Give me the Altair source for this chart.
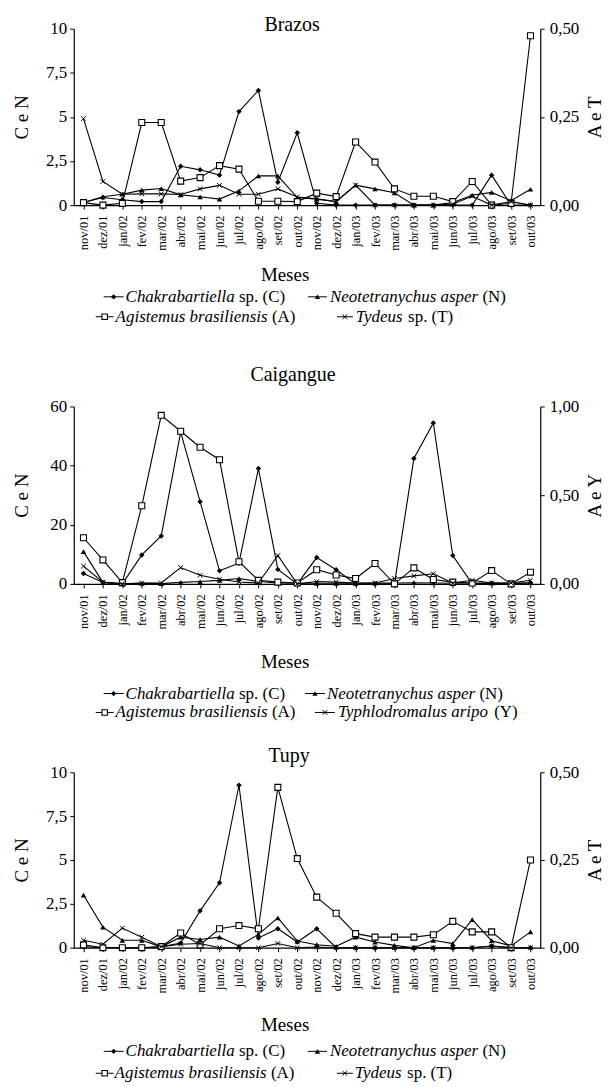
import altair as alt
import pandas as pd

months = ["nov/01", "dez/01", "jan/02", "fev/02", "mar/02", "abr/02", "mai/02", "jun/02",
          "jul/02", "ago/02", "set/02", "out/02", "nov/02", "dez/02", "jan/03", "fev/03",
          "mar/03", "abr/03", "mai/03", "jun/03", "jul/03", "ago/03", "set/03", "out/03"]

# Brazos (C, N on left axis; A, T on right axis)
brazos_C = [0.15, 0.43, 0.3, 0.2, 0.2, 2.2, 2.0, 1.7, 5.3, 6.5, 1.3, 4.1,
            0.1, 0.0, 0.0, 0.0, 0.0, 0.0, 0.0, 0.0, 0.0, 1.7, 0.0, 0.0]
brazos_N = [0.15, 0.47, 0.62, 0.85, 0.94, 0.58, 0.47, 0.34, 0.81, 1.66, 1.66, 0.43,
            0.34, 0.19, 1.13, 0.92, 0.7, 0.0, 0.0, 0.15, 0.56, 0.72, 0.25, 0.9]
brazos_A = [0.007, 0.0, 0.005, 0.234, 0.234, 0.068, 0.078, 0.112, 0.102, 0.011, 0.011, 0.01,
            0.034, 0.024, 0.179, 0.122, 0.046, 0.025, 0.025, 0.01, 0.067, 0.0, 0.005, 0.48]
brazos_T = [0.245, 0.067, 0.031, 0.032, 0.032, 0.03, 0.046, 0.056, 0.031, 0.031, 0.046, 0.023,
            0.018, 0.01, 0.057, 0.0, 0.0, 0.0, 0.0, 0.003, 0.025, 0.0, 0.01, 0.0]

# Caigangue (C, N left; A, Y right)
cai_C = [3.5, 0.5, 0.0, 9.8, 16.2, 51.3, 27.8, 4.4, 7.0, 39.0, 4.9, 0.0,
         8.9, 4.8, 0.0, 0.0, 0.0, 42.4, 54.4, 9.6, 0.0, 0.2, 0.0, 0.3]
cai_N = [10.9, 0.5, 0.0, 0.2, 0.1, 0.5, 0.8, 1.2, 1.8, 0.8, 0.3, 0.2,
         0.2, 0.2, 0.2, 0.3, 0.3, 0.4, 0.3, 0.2, 0.3, 0.3, 0.2, 0.4]
cai_A = [0.26, 0.135, 0.007, 0.44, 0.95, 0.86, 0.77, 0.70, 0.125, 0.02, 0.01, 0.005,
         0.08, 0.05, 0.03, 0.115, 0.0, 0.09, 0.025, 0.01, 0.005, 0.075, 0.0, 0.066]
cai_Y = [0.10, 0.01, 0.0, 0.005, 0.005, 0.092, 0.049, 0.026, 0.011, 0.005, 0.16, 0.0,
         0.013, 0.01, 0.005, 0.005, 0.03, 0.045, 0.057, 0.005, 0.02, 0.005, 0.005, 0.02]

# Tupy (C, N left; A, T right)
tupy_C = [0.05, 0.0, 0.0, 0.0, 0.05, 0.26, 2.1, 3.7, 9.26, 0.55, 1.08, 0.32,
          1.08, 0.0, 0.0, 0.0, 0.0, 0.0, 0.0, 0.0, 0.0, 0.1, 0.0, 0.0]
tupy_N = [3.0, 1.17, 0.42, 0.42, 0.05, 0.6, 0.47, 0.6, 0.1, 0.76, 1.7, 0.38,
          0.17, 0.08, 0.6, 0.32, 0.13, 0.0, 0.42, 0.23, 1.6, 0.4, 0.1, 0.9]
tupy_A = [0.008, 0.0, 0.0, 0.0, 0.003, 0.042, 0.008, 0.054, 0.063, 0.054, 0.457, 0.254,
          0.144, 0.098, 0.04, 0.03, 0.03, 0.03, 0.037, 0.075, 0.045, 0.045, 0.0, 0.25]
tupy_T = [0.021, 0.01, 0.056, 0.03, 0.003, 0.01, 0.012, 0.0, 0.0, 0.0, 0.012, 0.0,
          0.002, 0.0, 0.0, 0.0, 0.0, 0.0, 0.0, 0.0, 0.0, 0.005, 0.0, 0.0]

FONT = "'Liberation Serif', 'Times New Roman', Times, serif"
W = 468
LEG_SIZE = 17
XSHAPE = "M-1,-1L1,1M-1,1L1,-1"

ITALIC_W = {'C': 667, 'h': 500, 'a': 500, 'k': 444, 'r': 389, 'b': 500, 't': 278, 'i': 278,
            'e': 444, 'l': 278, 'N': 667, 'o': 500, 'y': 444, 'c': 444, 'n': 500, 'u': 500,
            's': 389, 'p': 500, 'A': 611, 'g': 500, 'm': 722, 'T': 556, 'd': 500, ' ': 250}


def italic_width(s, size):
    return sum(ITALIC_W.get(ch, 500) for ch in s) * size / 1000.0


one = pd.DataFrame({"k": [0]})


def text_layer(txt, x, y, size, align="left", italic=False):
    return alt.Chart(one).mark_text(
        text=txt, font=FONT, fontSize=size, align=align, baseline="alphabetic",
        fontStyle="italic" if italic else "normal", color="black"
    ).encode(x=alt.value(x), y=alt.value(y))


def marker_layer(shape, x, y):
    if shape == "square":
        m = alt.Chart(one).mark_point(shape="square", filled=True, fill="white", stroke="black",
                                      strokeWidth=1.1, size=30, opacity=1)
    elif shape == "x":
        m = alt.Chart(one).mark_point(shape=XSHAPE, filled=False, stroke="black",
                                      strokeWidth=1, size=22, opacity=1)
    else:
        m = alt.Chart(one).mark_point(shape=shape, filled=True, color="black", size=28, opacity=1)
    return m.encode(x=alt.value(x), y=alt.value(y))


def series_layers(df, field, shape, yenc_fn, xenc):
    line = alt.Chart(df).mark_line(color="black", strokeWidth=1.1).encode(
        x=xenc, y=yenc_fn(field), order=alt.Order("idx:Q"))
    if shape == "square":
        pts = alt.Chart(df).mark_point(shape="square", filled=True, fill="white", stroke="black",
                                       strokeWidth=1.1, size=36, opacity=1)
    elif shape == "x":
        pts = alt.Chart(df).mark_point(shape=XSHAPE, filled=False, stroke="black",
                                       strokeWidth=1, size=22, opacity=1)
    else:
        pts = alt.Chart(df).mark_point(shape=shape, filled=True, color="black", size=30, opacity=1)
    pts = pts.encode(x=xenc, y=yenc_fn(field))
    return [line, pts]


def make_panel(title, title_x, title_y, C, N, A, T, left_max, left_vals, right_max, right_vals,
               right_title, h, meses_y, row_y, pad_top, pad_bottom, legend):
    df = pd.DataFrame({"month": months, "idx": list(range(len(months))),
                       "C": C, "N": N, "A": A, "T": T})
    xenc = alt.X("month:N", sort=months, scale=alt.Scale(type="point", padding=0.5),
                 axis=alt.Axis(title=None, labelAngle=270, labelFont=FONT, labelFontSize=12.5,
                               labelColor="black", tickColor="black", domainColor="black",
                               tickSize=4, labelPadding=6, grid=False, domainWidth=1.2,
                               tickWidth=1))
    left_axis = alt.Axis(values=left_vals, orient="left", grid=False, title="C e N",
                         labelExpr="replace(toString(datum.value), '.', ',')",
                         labelFont=FONT, labelFontSize=17, labelColor="black",
                         tickColor="black", domainColor="black", tickSize=4, labelPadding=3,
                         domainWidth=1.2, titleFont=FONT, titleFontSize=19,
                         titleFontWeight="normal", titleColor="black", titleAngle=270,
                         titleX=-46, titleY=h / 2, titleAlign="center",
                         titleBaseline="alphabetic")
    right_axis = alt.Axis(values=right_vals, orient="right", grid=False, title=right_title,
                          labelExpr="replace(format(datum.value, '.2f'), '.', ',')",
                          labelFont=FONT, labelFontSize=17, labelColor="black",
                          tickColor="black", domainColor="black", tickSize=4, labelPadding=5,
                          domainWidth=1.2, titleFont=FONT, titleFontSize=19,
                          titleFontWeight="normal", titleColor="black", titleAngle=270,
                          titleX=60, titleY=h / 2, titleAlign="center",
                          titleBaseline="alphabetic")

    def yl(f):
        return alt.Y(f + ":Q", scale=alt.Scale(domain=[0, left_max], nice=False), axis=left_axis)

    def yr(f):
        return alt.Y(f + ":Q", scale=alt.Scale(domain=[0, right_max], nice=False), axis=right_axis)

    left = alt.layer(*(series_layers(df, "C", "diamond", yl, xenc) +
                       series_layers(df, "N", "triangle-up", yl, xenc)))
    right = alt.layer(*(series_layers(df, "A", "square", yr, xenc) +
                        series_layers(df, "T", "x", yr, xenc)))

    padder = alt.Chart(one).mark_rule(color="white", strokeWidth=0.2).encode(
        x=alt.value(-73), x2=alt.value(W + 68), y=alt.value(-pad_top), y2=alt.value(h + pad_bottom))

    decor = [text_layer(title, title_x, title_y, 20, align="center"),
             text_layer("Meses", 212, h + meses_y, 19, align="center")]
    space = 250 * LEG_SIZE / 1000.0
    for row, x1, x2, shape, ital, rom, tx in legend:
        ly = h + row_y[row]
        decor.append(alt.Chart(one).mark_rule(color="black", strokeWidth=1).encode(
            x=alt.value(x1), x2=alt.value(x2), y=alt.value(ly - 5)))
        decor.append(marker_layer(shape, (x1 + x2) / 2, ly - 5))
        decor.append(text_layer(ital, tx, ly, LEG_SIZE, italic=True))
        decor.append(text_layer(rom, tx + italic_width(ital, LEG_SIZE) + space, ly, LEG_SIZE))

    return alt.layer(padder, left, right, *decor).resolve_scale(y="independent").properties(
        width=W, height=h)


leg_brazos = [
    (0, 30, 50, "diamond", "Chakrabartiella", "sp. (C)", 52),
    (0, 235, 254, "triangle-up", "Neotetranychus asper", "(N)", 257),
    (1, 22, 40, "square", "Agistemus brasiliensis", "(A)", 42),
    (1, 264, 280, "x", "Tydeus", "sp. (T)", 283),
]
leg_cai = [
    (0, 30, 50, "diamond", "Chakrabartiella", "sp. (C)", 52),
    (0, 232, 252, "triangle-up", "Neotetranychus asper", "(N)", 254),
    (1, 22, 40, "square", "Agistemus brasiliensis", "(A)", 42),
    (1, 242, 262, "x", "Typhlodromalus aripo", "(Y)", 265),
]
leg_tupy = [
    (0, 30, 50, "diamond", "Chakrabartiella", "sp. (C)", 52),
    (0, 235, 254, "triangle-up", "Neotetranychus asper", "(N)", 257),
    (1, 22, 40, "square", "Agistemus brasiliensis", "(A)", 41),
    (1, 264, 280, "x", "Tydeus", "sp. (T)", 282),
]

p1 = make_panel("Brazos", 219, 2, brazos_C, brazos_N, brazos_A, brazos_T, 10,
                [0, 2.5, 5, 7.5, 10], 0.5, [0, 0.25, 0.5], "A e T", 177, 76,
                {0: 97, 1: 117}, 26, 140, leg_brazos)
p2 = make_panel("Caigangue", 220, -26, cai_C, cai_N, cai_A, cai_Y, 60,
                [0, 20, 40, 60], 1.0, [0, 0.5, 1.0], "A e Y", 178, 84,
                {0: 115, 1: 134}, 50, 140, leg_cai)
p3 = make_panel("Tupy", 216, -10, tupy_C, tupy_N, tupy_A, tupy_T, 10,
                [0, 2.5, 5, 7.5, 10], 0.5, [0, 0.25, 0.5], "A e T", 176, 84,
                {0: 109, 1: 131}, 37, 143, leg_tupy)

chart = alt.vconcat(p1, p2, p3, spacing=10).properties(
    padding=0, background="white"
).configure_view(stroke=None)

chart.save("out.html", embed_options={"renderer": "svg", "actions": False})
